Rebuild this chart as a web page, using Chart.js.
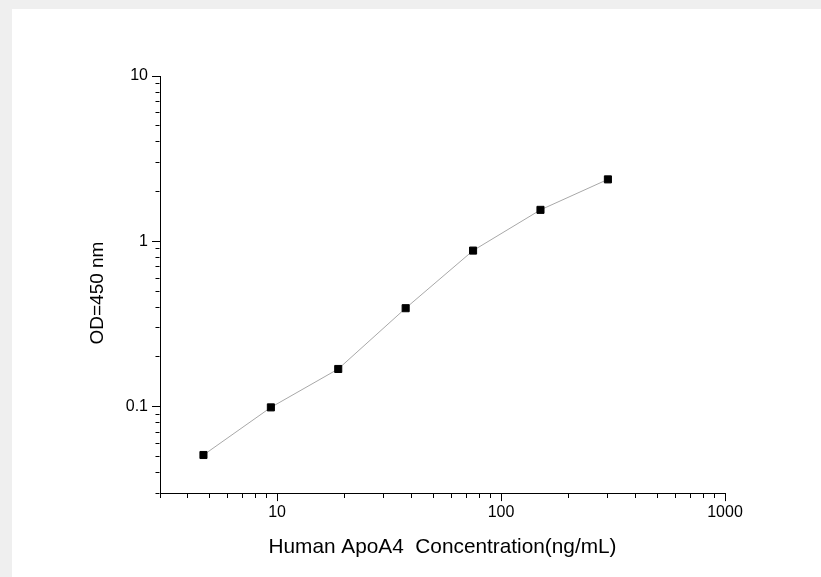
<!DOCTYPE html>
<html>
<head>
<meta charset="utf-8">
<script src="https://cdn.jsdelivr.net/npm/chart.js@4.4.1/dist/chart.umd.min.js"></script>
<style>
  html, body { margin: 0; padding: 0; background: #efefef; overflow: hidden; }
  #panel { position: absolute; left: 12px; top: 9px; right: 0; bottom: 0; background: #ffffff; }
  #c { position: absolute; left: 0; top: 0; }
</style>
</head>
<body>
<div id="panel"></div>
<canvas id="c" width="821" height="577"></canvas>
<script>
// ---- data ----
const concentration = [4.69, 9.38, 18.75, 37.5, 75, 150, 300];
const odValues = [0.051, 0.099, 0.169, 0.394, 0.879, 1.55, 2.37];

// ---- axes ----
const xRange = [3, 1000];
const yRange = [0.03, 10];
const xMajorTicks = [10, 100, 1000];
const xTickLabels = ['10', '100', '1000'];
const yMajorTicks = [0.1, 1, 10];
const yTickLabels = ['0.1', '1', '10'];
const xTitle = 'Human ApoA4  Concentration(ng/mL)';
const yTitle = 'OD=450 nm';

const FONT = "'Liberation Sans', Arial, sans-serif";
const TEXT = '#000000';

function isMajorVal(v, majors) {
  return majors.some(m => Math.abs(v - m) / m < 1e-6);
}
function decadeTicks(range) {
  const out = [];
  const lo = Math.floor(Math.log10(range[0]));
  const hi = Math.ceil(Math.log10(range[1]));
  for (let e = lo; e <= hi; e++) {
    for (let k = 1; k <= 9; k++) {
      const v = parseFloat((k * Math.pow(10, e)).toPrecision(6));
      if (v >= range[0] - 1e-12 && v <= range[1] + 1e-12) out.push(v);
    }
  }
  return out;
}

const points = concentration.map((x, i) => ({ x: x, y: odValues[i] }));

// y-axis title drawn slightly below centre, as in the reference
const yTitlePlugin = {
  id: 'yTitlePlugin',
  afterDraw(chart) {
    const s = chart.scales.y;
    const ctx = chart.ctx;
    ctx.save();
    ctx.fillStyle = TEXT;
    ctx.font = "19px " + FONT;
    ctx.textAlign = 'center';
    ctx.textBaseline = 'middle';
    ctx.translate(s.left + 11, (s.top + s.bottom) / 2 + 8.5);
    ctx.rotate(-Math.PI / 2);
    ctx.fillText(yTitle, 0, 0);
    ctx.restore();
  }
};

new Chart(document.getElementById('c'), {
  type: 'line',
  data: {
    datasets: [{
      data: points,
      borderColor: '#a8a8a8',
      borderWidth: 1,
      pointStyle: 'rect',
      pointRadius: 5,
      pointBorderWidth: 1,
      pointBackgroundColor: '#000000',
      pointBorderColor: '#000000',
      tension: 0,
      fill: false
    }]
  },
  plugins: [yTitlePlugin],
  options: {
    responsive: false,
    animation: false,
    events: [],
    layout: { padding: { left: 87, top: 76, right: 96, bottom: 17 } },
    plugins: { legend: { display: false }, tooltip: { enabled: false } },
    scales: {
      x: {
        type: 'logarithmic',
        min: xRange[0], max: xRange[1],
        bounds: 'data',
        afterBuildTicks: s => { s.ticks = decadeTicks(xRange).map(v => ({ value: v, major: isMajorVal(v, xMajorTicks) })); },
        afterFit: s => { s.height = 66.9; },
        border: { display: true, color: '#000000', width: 1 },
        grid: {
          drawOnChartArea: false, drawTicks: true, tickLength: 8,
          tickColor: '#000000', tickWidth: 1,
          tickBorderDash: ctx => (ctx.tick && isMajorVal(ctx.tick.value, xMajorTicks)) ? [] : [4, 100]
        },
        ticks: {
          autoSkip: false, maxRotation: 0, padding: 2,
          color: TEXT, font: { family: FONT, size: 16 },
          callback: v => { const i = xMajorTicks.findIndex(m => Math.abs(v - m) / m < 1e-6); return i >= 0 ? xTickLabels[i] : ''; }
        },
        title: { display: true, text: xTitle, color: TEXT, font: { family: FONT, size: 20.8 }, padding: 0 }
      },
      y: {
        type: 'logarithmic',
        min: yRange[0], max: yRange[1],
        bounds: 'data',
        afterBuildTicks: s => { s.ticks = decadeTicks(yRange).map(v => ({ value: v, major: isMajorVal(v, yMajorTicks) })); },
        afterFit: s => { s.width = 73; },
        border: { display: true, color: '#000000', width: 1 },
        grid: {
          drawOnChartArea: false, drawTicks: true, tickLength: 8,
          tickColor: '#000000', tickWidth: 1,
          tickBorderDash: ctx => (ctx.tick && isMajorVal(ctx.tick.value, yMajorTicks)) ? [] : [0, 3.5, 4, 100]
        },
        ticks: {
          autoSkip: false, padding: 4,
          color: TEXT, font: { family: FONT, size: 16 },
          callback: v => { const i = yMajorTicks.findIndex(m => Math.abs(v - m) / m < 1e-6); return i >= 0 ? yTickLabels[i] : ''; }
        },
        title: { display: false }
      }
    }
  }
});
</script>
</body>
</html>
